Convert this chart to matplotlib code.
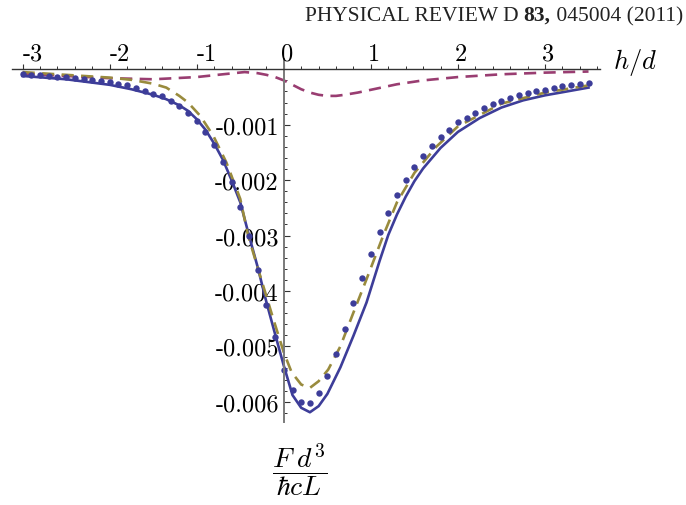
import numpy as np
import matplotlib
matplotlib.use("Agg")
import matplotlib.pyplot as plt
from matplotlib.ticker import MultipleLocator

plt.rcParams['mathtext.fontset'] = 'cm'

# force F d^3/(hbar c L) against h/d, values read in units of 1e-3

# numerical points (blue dots)
dots_h = [-3.0, -2.9, -2.8, -2.7, -2.6, -2.5, -2.4, -2.3, -2.2, -2.1,
          -2.0, -1.9, -1.8, -1.7, -1.6, -1.5, -1.4, -1.3, -1.2, -1.1,
          -1.0, -0.9, -0.8, -0.7, -0.6, -0.5, -0.4, -0.3, -0.2, -0.1,
          0.0, 0.1, 0.2, 0.3, 0.4, 0.5, 0.6, 0.7, 0.8, 0.9,
          1.0, 1.1, 1.2, 1.3, 1.4, 1.5, 1.6, 1.7, 1.8, 1.9,
          2.0, 2.1, 2.2, 2.3, 2.4, 2.5, 2.6, 2.7, 2.8, 2.9,
          3.0, 3.1, 3.2, 3.3, 3.4, 3.5]
dots_f = [-0.09, -0.10, -0.11, -0.12, -0.13, -0.14, -0.15, -0.17, -0.19, -0.21,
          -0.23, -0.26, -0.29, -0.34, -0.39, -0.44, -0.49, -0.57, -0.66, -0.78,
          -0.93, -1.13, -1.37, -1.67, -2.04, -2.48, -3.00, -3.62, -4.26, -4.84,
          -5.42, -5.79, -6.00, -6.02, -5.84, -5.54, -5.13, -4.68, -4.21, -3.76,
          -3.33, -2.94, -2.59, -2.27, -2.00, -1.76, -1.56, -1.38, -1.23, -1.09,
          -0.96, -0.87, -0.78, -0.70, -0.62, -0.57, -0.52, -0.47, -0.43, -0.40,
          -0.37, -0.34, -0.31, -0.28, -0.26, -0.25]

# blue solid curve
solid_h = [-3.0, -2.5, -2.0, -1.75, -1.5, -1.35, -1.2, -1.1, -1.0, -0.9,
           -0.8, -0.7, -0.6, -0.5, -0.4, -0.3, -0.2, -0.1, 0.0, 0.1,
           0.2, 0.3, 0.4, 0.5, 0.65, 0.8, 0.95, 1.1, 1.2, 1.3,
           1.4, 1.5, 1.6, 1.8, 2.0, 2.25, 2.5, 2.75, 3.0, 3.25, 3.5]
solid_f = [-0.12, -0.18, -0.28, -0.36, -0.46, -0.54, -0.65, -0.75, -0.90, -1.09,
           -1.34, -1.63, -2.00, -2.40, -3.00, -3.57, -4.20, -4.78, -5.35, -5.88,
           -6.11, -6.19, -6.08, -5.86, -5.38, -4.81, -4.21, -3.46, -2.99, -2.62,
           -2.30, -2.02, -1.79, -1.42, -1.13, -0.88, -0.69, -0.56, -0.47, -0.40, -0.33]

# olive dashed curve
olive_h = [-3.0, -2.5, -2.0, -1.75, -1.5, -1.35, -1.2, -1.1, -0.96, -0.81,
           -0.66, -0.5, -0.41, -0.3, -0.12, 0.0, 0.09, 0.2, 0.3, 0.4,
           0.51, 0.65, 0.8, 0.95, 1.14, 1.3, 1.5, 1.75, 2.0, 2.5, 3.0, 3.5]
olive_f = [-0.05, -0.10, -0.15, -0.19, -0.26, -0.33, -0.48, -0.60, -0.84, -1.20,
           -1.68, -2.34, -3.00, -3.58, -4.51, -5.11, -5.47, -5.69, -5.75, -5.63,
           -5.42, -5.00, -4.39, -3.79, -3.01, -2.40, -1.87, -1.40, -1.03, -0.62, -0.42, -0.29]

# magenta dashed curve
mag_h = [-3.0, -2.5, -2.0, -1.5, -1.0, -0.7, -0.45, -0.3, -0.2, -0.1,
         0.0, 0.1, 0.2, 0.3, 0.4, 0.5, 0.6, 0.7, 0.85, 1.0,
         1.3, 1.6, 2.0, 2.5, 3.0, 3.5]
mag_f = [-0.08, -0.12, -0.16, -0.18, -0.14, -0.09, -0.05, -0.07, -0.10, -0.14,
         -0.20, -0.28, -0.36, -0.42, -0.46, -0.48, -0.48, -0.46, -0.42, -0.37,
         -0.27, -0.20, -0.14, -0.09, -0.06, -0.04]

x_ticks = [-3, -2, -1, 0, 1, 2, 3]
x_tick_labels = ["-3", "-2", "-1", "0", "1", "2", "3"]
y_ticks = [-0.006, -0.005, -0.004, -0.003, -0.002, -0.001]
y_tick_labels = ["-0.006", "-0.005", "-0.004", "-0.003", "-0.002", "-0.001"]

BLUE = (0.24, 0.24, 0.6)
MAGENTA = (0.6, 0.24, 0.442)
OLIVE = (0.6, 0.547, 0.24)

W, H = 686, 506
fig = plt.figure(figsize=(W / 100, H / 100), dpi=100)
ax = fig.add_axes([12 / W, 1 - 423 / H, 588 / W, 363 / H])
ax.set_xlim(-3.122, 3.632)
ax.set_ylim(-0.006366, 0.000186)
ax.patch.set_visible(False)

s = 1e-3
ax.plot(mag_h, np.array(mag_f) * s, color=MAGENTA, lw=1.9, dashes=(4.6, 2.8))
ax.plot(solid_h, np.array(solid_f) * s, color=BLUE, lw=1.9)
ax.plot(olive_h, np.array(olive_f) * s, color=OLIVE, lw=1.9, dashes=(4.6, 2.8))
ax.plot(dots_h, np.array(dots_f) * s, 'o', color=BLUE, ms=4.6, mec='none')

# axes crossing at the origin, Mathematica style
for side in ['right', 'bottom']:
    ax.spines[side].set_visible(False)
ax.spines['top'].set_position(('data', 0))
ax.spines['left'].set_position(('data', 0))
ax.spines['top'].set_color('#333333')
ax.spines['left'].set_color('#7a7a7a')
ax.spines['top'].set_linewidth(1.0)
ax.spines['left'].set_linewidth(1.4)
ax.xaxis.set_ticks_position('top')
ax.yaxis.set_ticks_position('left')

ax.set_xticks(x_ticks)
ax.xaxis.set_minor_locator(MultipleLocator(0.2))
ax.tick_params(axis='x', which='major', direction='out', length=3.5, width=0.8,
               color='#333333', labeltop=False)
ax.tick_params(axis='x', which='minor', direction='out', length=2.2, width=0.7,
               color='#333333')
for v, lab in zip(x_ticks, x_tick_labels):
    dx = 10 if v < 0 else 3
    ax.annotate(lab, xy=(v, 0), xytext=(dx, 9.6), textcoords='offset pixels',
                ha='center', va='baseline', fontfamily='cmr10', fontsize=17.5)

ax.set_yticks(y_ticks)
ax.set_yticklabels(y_tick_labels, fontfamily='cmr10', fontsize=17.5)
ax.yaxis.set_minor_locator(MultipleLocator(0.0002))
ax.tick_params(axis='y', which='major', direction='in', length=4, width=0.8,
               color='#333333', pad=3.6)
ax.tick_params(axis='y', which='minor', direction='in', length=2.5, width=0.7,
               color='#333333')

fig.text(613 / W, 1 - 69 / H, r'$h/d$', fontsize=19, ha='left', va='baseline')
fig.text(300 / W, 1 - 470 / H, r'$\dfrac{F\;d^3}{\hbar c L}$', fontsize=20,
         ha='center', va='center')

# journal header, right aligned, with bold volume number
renderer = fig.canvas.get_renderer()
hy = 1 - 21 / H
xr = 683 / W
parts = [(" 045004 (2011)", 'normal'), ("83,", 'bold'), ("PHYSICAL REVIEW D ", 'normal')]
for txt, weight in parts:
    t = fig.text(xr, hy, txt, ha='right', va='baseline', fontsize=15.5,
                 fontfamily='Liberation Serif', fontweight=weight, color='#222222')
    bb = t.get_window_extent(renderer)
    xr = bb.x0 / W

fig.savefig('out.png', dpi=100)
